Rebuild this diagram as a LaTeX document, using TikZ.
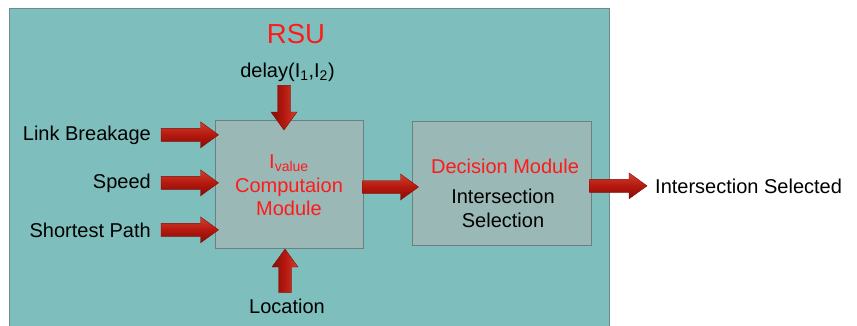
\documentclass[tikz,border=0pt]{standalone}
\usepackage{fontspec}
\setmainfont{Liberation Sans}
\usetikzlibrary{calc}
\definecolor{tealbg}{HTML}{7EBFBE}
\definecolor{tealline}{HTML}{6E8A8A}
\definecolor{boxfill}{HTML}{9AB8B5}
\definecolor{boxline}{HTML}{6F7F7F}
\definecolor{arrlight}{HTML}{D2402F}
\definecolor{arrmid}{HTML}{B5180E}
\definecolor{arrdark}{HTML}{840C05}
\definecolor{rsured}{HTML}{FF1A1A}
\tikzset{
  lbl/.style={font=\fontsize{20}{24}\selectfont, text=black, inner sep=0pt},
  redlbl/.style={lbl, text=rsured},
  module/.style={draw=boxline, fill=boxfill, line width=1pt, inner sep=0pt},
  blockarrowpath/.style={to path={let \p1=(\tikztostart), \p2=(\tikztotarget),
      \n1={veclen(\x2-\x1,\y2-\y1)}, \n2={atan2(\y2-\y1,\x2-\x1)} in
      ($(\p1)+(\n2+90:6.5pt)$) -- ($(\p1)+(\n2:\n1-18pt)+(\n2+90:6.5pt)$)
      -- ($(\p1)+(\n2:\n1-18pt)+(\n2+90:13pt)$) -- (\p2)
      -- ($(\p1)+(\n2:\n1-18pt)+(\n2-90:13pt)$)
      -- ($(\p1)+(\n2:\n1-18pt)+(\n2-90:6.5pt)$)
      -- ($(\p1)+(\n2-90:6.5pt)$) -- cycle}},
  harrow/.style={blockarrowpath, draw=arrdark, line width=0.4pt, top color=arrlight, bottom color=arrdark, middle color=arrmid},
  varrow/.style={blockarrowpath, draw=arrdark, line width=0.4pt, left color=arrdark, right color=arrlight, middle color=arrmid}
}
\begin{document}
\begin{tikzpicture}[x=1pt,y=-1pt]
\clip (0,0) rectangle (857,325);
\fill[white] (0,0) rectangle (857,325);
% outer RSU box
\node[draw=tealline, fill=tealbg, line width=1pt, inner sep=0pt, minimum width=600pt, minimum height=340pt, anchor=north west] (rsubox) at (9,8) {};
\node[redlbl, font=\fontsize{27.5}{30}\selectfont, anchor=base] (rsu) at (296,43) {RSU};
\node[lbl, anchor=base] (delay) at (287.5,77) {delay(I\textsubscript{1},I\textsubscript{2})};
% modules
\node[module, minimum width=148pt, minimum height=128pt] (comp) at (289,184) {};
\node[module, minimum width=179pt, minimum height=124pt] (dec) at (501.5,183) {};
\node[redlbl, anchor=base] (ival) at (289,168) {I\textsubscript{value}};
\node[redlbl, anchor=base] (compt) at (289,192) {Computaion};
\node[redlbl, anchor=base] (modt) at (289,215) {Module};
\node[redlbl, anchor=base] (dect) at (505,173) {Decision Module};
\node[lbl, anchor=base] (inter) at (503,203) {Intersection};
\node[lbl, anchor=base] (sel) at (503,227) {Selection};
% inputs
\node[lbl, anchor=base east] (lb) at (151,140) {Link Breakage};
\node[lbl, anchor=base east] (sp) at (151,188) {Speed};
\node[lbl, anchor=base east] (sh) at (151,237) {Shortest Path};
\node[lbl, anchor=base] (loc) at (287,313) {Location};
\node[lbl, anchor=base west] (out) at (655,193) {Intersection Selected};
\coordinate (topin) at (284,130);
\coordinate (botin) at (285,249);
% arrows
\path[harrow] ([xshift=10pt]lb.east) to ([xshift=4pt]lb.east -| comp.west);
\path[harrow] ([xshift=10pt]sp.east) to ([xshift=4pt]sp.east -| comp.west);
\path[harrow] ([xshift=10pt]sh.east) to ([xshift=4pt]sh.east -| comp.west);
\path[harrow] ([yshift=-3pt,xshift=-1pt]comp.east) to ([yshift=-3pt,xshift=7pt]comp.east -| dec.west);
\path[harrow] ([xshift=-2pt]dec.east |- out.west) to ([xshift=-8pt]out.west);
\path[varrow] ([yshift=-4pt]delay.south -| topin) to (topin);
\path[varrow] ([yshift=6pt]loc.north -| botin) to (botin);
\end{tikzpicture}
\end{document}
